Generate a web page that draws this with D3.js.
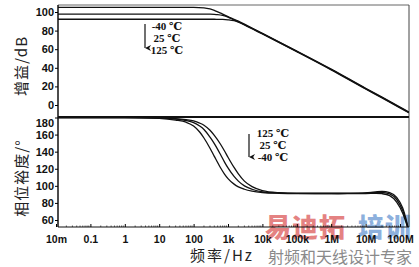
<!DOCTYPE html>
<html><head><meta charset="utf-8">
<script src="https://cdn.jsdelivr.net/npm/d3@7"></script>
<style>
html,body{margin:0;padding:0;background:#fff;}
svg{display:block;}
</style></head>
<body>
<svg id="c" width="419" height="267"></svg>
<script>
// ---------- data ----------
const freqTicks = [0.01, 0.1, 1, 10, 100, 1e3, 1e4, 1e5, 1e6, 1e7, 1e8];
const freqTickLabels = ["10m", "0.1", "1", "10", "100", "1k", "10k", "100k", "1M", "10M", "100M"];
const gainTicks = [0, 20, 40, 60, 80, 100];
const phaseTicks = [60, 80, 100, 120, 140, 160, 180];

const freqGain = [0.01, 1, 100, 200, 300, 400, 500, 700, 1000, 1500, 2000, 3000, 4000, 7000, 1e4, 1e5, 1e6, 1e7, 3e7, 1e8, 1.4e8, 1.8e8];
const gainM40 = [105, 105, 105, 104.5, 103.3, 101.8, 100.2, 97.8, 95, 92.2, 90.1, 86.9, 84.6, 80.1, 77.1, 58.1, 38.6, 18, 8.5, -2.3, -5.3, -7.6];
const gain25  = [97.8, 97.8, 97.8, 97.8, 97.7, 97.5, 97.2, 96.3, 94.6, 91.5, 89.5, 86.4, 84.1, 79.6, 76.7, 57.7, 38.2, 17.6, 8.1, -2.7, -5.7, -8.0];
const gain125 = [92.2, 92.2, 92.2, 92.2, 92.2, 92.2, 92.1, 92, 91.6, 90.6, 89, 86.1, 83.8, 79.2, 76.3, 57.3, 37.8, 17.2, 7.7, -3.1, -6.1, -8.4];

const freqPhase = [0.01, 1, 10, 30, 60, 100, 150, 200, 300, 400, 600, 800, 1000, 1500, 2000, 3000, 5000, 1e4, 3e4, 1e5, 1e6, 3e6, 1e7, 2e7, 3e7, 5e7, 8e7, 1.2e8, 1.5e8, 1.8e8];
const phaseM40 = [180, 180, 179, 177, 174.5, 170, 163, 156, 144, 134.5, 121.5, 113.5, 108.5, 102, 98.8, 96, 93.8, 92.2, 91.3, 91, 91, 91.2, 91.8, 93, 93.4, 92, 86.5, 74, 61, 47];
const phase25  = [180, 180, 179.5, 178, 176.5, 174, 170, 166, 157, 149.5, 137, 127.5, 121, 111, 105.5, 100, 96, 93, 91.5, 91.1, 91, 91.1, 91.5, 92.4, 92.4, 90.5, 84, 71, 59, 47];
const phase125 = [180, 180, 179.7, 178.8, 177.5, 176, 173.5, 171, 165, 159, 149, 140.5, 133.5, 121.5, 114, 105.5, 99, 94.5, 92, 91.2, 91.1, 91, 91, 91.3, 90.8, 88.5, 81, 68, 57, 47];

const tempsGain = ["-40 ℃", "25 ℃", "125 ℃"];
const tempsPhase = ["125 ℃", "25 ℃", "-40 ℃"];

// ---------- layout ----------
const svg = d3.select("#c");
const L = 58, R = 409, T1 = 5, B1 = 117, T2 = 117, B2 = 227;

const x = d3.scaleLog().domain([0.01, 1e8]).range([56, 400]);
const yG = d3.scaleLinear().domain([0, 100]).range([105, 12]);
const yP = d3.scaleLinear().domain([60, 180]).range([220, 117.5]);

const defs = svg.append("defs");
defs.append("clipPath").attr("id", "cg").append("rect").attr("x", L).attr("y", T1).attr("width", R - L).attr("height", B1 - T1);
defs.append("clipPath").attr("id", "cp").append("rect").attr("x", L).attr("y", T2 - 1).attr("width", R - L).attr("height", B2 - T2 + 1);
defs.append("marker").attr("id", "ah").attr("viewBox", "0 0 10 10").attr("refX", 5).attr("refY", 10)
  .attr("markerWidth", 5).attr("markerHeight", 7).attr("orient", "auto-start-reverse")
  .append("path").attr("d", "M0,0 L5,10 L10,0 L5,3 Z").attr("fill", "#111");

// watermark (behind)
const wm = svg.append("g");
const wmChars = ["易", "迪", "拓", "培", "训"];
const wmX = [278, 305, 332, 371, 398];
const wmCols = ["#e48282", "#e48282", "#e48282", "#8db0dd", "#8db0dd"];
wmChars.forEach((ch, i) => {
  wm.append("text").attr("x", wmX[i]).attr("y", 237).attr("text-anchor", "middle")
    .attr("font-family", "Noto Sans CJK SC").attr("font-weight", "900").attr("font-size", 26)
    .attr("fill", wmCols[i]).text(ch);
});
wm.append("text").attr("x", 340).attr("y", 263).attr("text-anchor", "middle")
  .attr("font-family", "Noto Sans CJK SC").attr("font-size", 16).attr("fill", "#8a8a8a")
  .text("射频和天线设计专家");

// frame
svg.append("line").attr("x1", L).attr("x2", R).attr("y1", T1).attr("y2", T1).attr("stroke", "#666").attr("stroke-width", 1);
svg.append("line").attr("x1", R).attr("x2", R).attr("y1", T1).attr("y2", B2).attr("stroke", "#444").attr("stroke-width", 1);
svg.append("line").attr("x1", L).attr("x2", R).attr("y1", B1).attr("y2", B1).attr("stroke", "#111").attr("stroke-width", 2);

// axes
const tickFont = g => g.selectAll("text").attr("font-family", "Liberation Sans, Arial, sans-serif")
  .attr("font-weight", "bold").attr("font-size", 11).attr("fill", "#111");

const gAxG = svg.append("g").attr("transform", `translate(${L},0)`)
  .call(d3.axisLeft(yG).tickValues(gainTicks).tickSize(3).tickPadding(1));
gAxG.select(".domain").attr("d", `M0,${T1}V${B1}`).attr("stroke", "#111").attr("stroke-width", 1.5);
gAxG.call(tickFont);

const gAxP = svg.append("g").attr("transform", `translate(${L},0)`)
  .call(d3.axisLeft(yP).tickValues(phaseTicks).tickSize(3).tickPadding(1));
gAxP.select(".domain").attr("d", `M0,${T2}V${B2}`).attr("stroke", "#111").attr("stroke-width", 1.5);
gAxP.call(tickFont);
gAxP.selectAll(".tick").filter(d => d === 180).select("text").attr("dy", "0.32em").attr("y", 5);

// minor ticks on bottom axis
const minor = [];
for (let e = -2; e < 9; e++) for (let m = 2; m <= 9; m++) { const v = m * Math.pow(10, e); if (x(v) <= R) minor.push(v); }
svg.append("g").selectAll("line").data(minor).join("line")
  .attr("x1", d => x(d)).attr("x2", d => x(d)).attr("y1", B2).attr("y2", B2 - 1.5)
  .attr("stroke", "#333").attr("stroke-width", 0.8);

const gAxX = svg.append("g").attr("transform", `translate(0,${B2})`)
  .call(d3.axisBottom(x).tickValues(freqTicks).tickFormat((d, i) => freqTickLabels[i]).tickSizeInner(-3).tickSizeOuter(0).tickPadding(9));
gAxX.select(".domain").attr("d", `M${L},0H${R}`).attr("stroke", "#111").attr("stroke-width", 1.2);
gAxX.call(tickFont);
gAxX.selectAll(".tick text").attr("font-size", 10.5);

// curves
const lineG = d3.line().x((d, i) => x(freqGain[i])).y(d => yG(d)).curve(d3.curveMonotoneX);
const lineP = d3.line().x((d, i) => x(freqPhase[i])).y(d => yP(d)).curve(d3.curveMonotoneX);

svg.append("g").attr("clip-path", "url(#cg)").selectAll("path").data([gainM40, gain25, gain125]).join("path")
  .attr("d", lineG).attr("fill", "none").attr("stroke", "#111").attr("stroke-width", 1.3);
svg.append("g").attr("clip-path", "url(#cp)").selectAll("path").data([phaseM40, phase25, phase125]).join("path")
  .attr("d", lineP).attr("fill", "none").attr("stroke", "#111").attr("stroke-width", 1.3);

// annotations
const ann = (labels, cx, y0, ax, ay1, ay2) => {
  const g = svg.append("g");
  labels.forEach((t, i) => g.append("text").attr("x", cx).attr("y", y0 + i * 12).attr("text-anchor", "middle")
    .attr("font-family", "Liberation Serif, DejaVu Serif, serif").attr("font-weight", "bold").attr("font-size", 11)
    .attr("fill", "#111").text(t));
  g.append("line").attr("x1", ax).attr("x2", ax).attr("y1", ay1).attr("y2", ay2)
    .attr("stroke", "#111").attr("stroke-width", 1.2).attr("marker-end", "url(#ah)");
};
ann(tempsGain, 167, 30, 145, 24, 48);
ann(tempsPhase, 273, 137, 249, 134, 157);

// axis titles
svg.append("text").attr("transform", "translate(27,66) rotate(-90)").attr("text-anchor", "middle")
  .attr("font-family", "Noto Sans CJK SC").attr("font-size", 15).attr("letter-spacing", 1).attr("fill", "#222")
  .text("增益/dB");
svg.append("text").attr("transform", "translate(27,178) rotate(-90)").attr("text-anchor", "middle")
  .attr("font-family", "Noto Sans CJK SC").attr("font-size", 15).attr("letter-spacing", 1).attr("fill", "#222")
  .text("相位裕度/°");
svg.append("text").attr("x", 222).attr("y", 261).attr("text-anchor", "middle")
  .attr("font-family", "Noto Sans CJK SC").attr("font-size", 15).attr("letter-spacing", 2).attr("fill", "#222")
  .text("频率/Hz");
</script>
</body></html>
